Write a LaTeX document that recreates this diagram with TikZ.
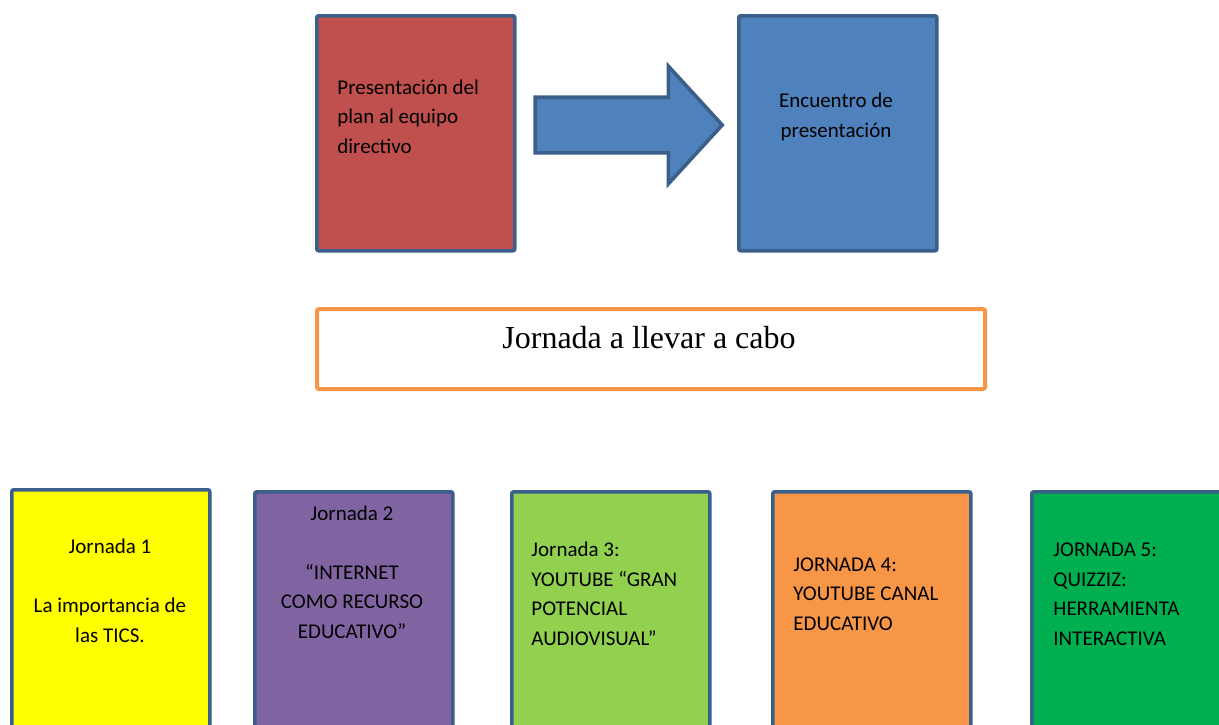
\documentclass[tikz,border=0pt]{standalone}
\usepackage{fontspec}
\setmainfont{Carlito}
\newfontfamily\titlefont{Liberation Serif}
\usetikzlibrary{shapes.arrows}

\definecolor{boxedge}{HTML}{3A5F8B}
\definecolor{planred}{HTML}{C0504D}
\definecolor{meetblue}{HTML}{4F81BD}
\definecolor{titleorange}{HTML}{F79646}
\definecolor{dayyellow}{HTML}{FFFF00}
\definecolor{daypurple}{HTML}{8064A2}
\definecolor{daylime}{HTML}{92D050}
\definecolor{dayorange}{HTML}{F79646}
\definecolor{daygreen}{HTML}{00B050}

\tikzset{
  box/.style={draw=boxedge, line width=1.8pt, rounded corners=1pt, anchor=north west,
    minimum width=99pt, minimum height=117.5pt, inner sep=0pt},
  daybox/.style={box, minimum height=150pt},
  boxtext/.style={font=\fontsize{10.5}{14.75}\selectfont, inner sep=0pt},
}

\begin{document}
\begin{tikzpicture}[x=0.5pt,y=-0.5pt]
\useasboundingbox (0,0) rectangle (1219,724);
\clip (0,0) rectangle (1219,724);

\node[box, fill=planred] (plan) at (315,14) {};
\node[box, fill=meetblue] (meet) at (737,14) {};
\node[single arrow, draw=boxedge, fill=meetblue, line width=1.8pt, inner xsep=0pt, inner ysep=13pt,
  minimum width=57pt, minimum height=93.5pt, single arrow head extend=15.5pt,
  single arrow tip angle=95] (toward) at (616,125) {};

\node[boxtext, anchor=base west, align=left] (plantext) at (337,153) {Presentación del\\plan al equipo\\directivo};
\node[boxtext, anchor=base, align=center] (meettext) at (836,137) {Encuentro de\\presentación};

\node[draw=titleorange, line width=2pt, rounded corners=1pt, minimum width=334pt, minimum height=40pt,
  anchor=north west, inner sep=0pt] (title) at (315,307) {};
\node[font=\titlefont\fontsize{16}{19}\selectfont, anchor=base, inner sep=0pt] (titletext) at (649,348) {Jornada a llevar a cabo};

\node[daybox, fill=dayyellow] (day1) at (10,488) {};
\node[daybox, fill=daypurple] (day2) at (253,490) {};
\node[daybox, fill=daylime] (day3) at (510,490) {};
\node[daybox, fill=dayorange] (day4) at (771,490) {};
\node[daybox, fill=daygreen] (day5) at (1030,490) {};

\node[boxtext, anchor=base, align=center] (day1text) at (110,642) {Jornada 1\\ \\La importancia de\\las TICS.};
\node[boxtext, anchor=base, align=center] (day2text) at (352,638) {Jornada 2\\ \\“INTERNET\\COMO RECURSO\\EDUCATIVO”};
\node[boxtext, anchor=base west, align=left] (day3text) at (531,645) {Jornada 3:\\YOUTUBE “GRAN\\POTENCIAL\\AUDIOVISUAL”};
\node[boxtext, anchor=base west, align=left] (day4text) at (793,630) {JORNADA 4:\\YOUTUBE CANAL\\EDUCATIVO};
\node[boxtext, anchor=base west, align=left] (day5text) at (1053,645) {JORNADA 5:\\QUIZZIZ:\\HERRAMIENTA\\INTERACTIVA};
\end{tikzpicture}
\end{document}
